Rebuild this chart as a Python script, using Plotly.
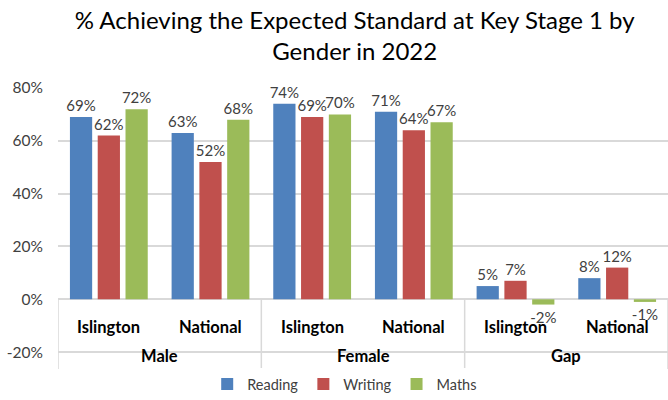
import plotly.graph_objects as go

groups = ["Male", "Male", "Female", "Female", "Gap", "Gap"]
areas = ["Islington", "National", "Islington", "National", "Islington", "National"]
reading = [69, 63, 74, 71, 5, 8]
writing = [62, 52, 69, 64, 7, 12]
maths = [72, 68, 70, 67, -2, -1]

series = [
    ("Reading", reading, "#4F81BD"),
    ("Writing", writing, "#C0504D"),
    ("Maths", maths, "#9BBB59"),
]

font = "Lato, 'Liberation Sans', sans-serif"
text_col = "#404040"

# unique category keys so each bar group sits in its own slot
cats = [g + "|" + a for g, a in zip(groups, areas)]

fig = go.Figure()
for name, vals, color in series:
    fig.add_trace(
        go.Bar(
            x=cats,
            y=vals,
            name=name,
            marker=dict(color=color, line=dict(width=0)),
            text=[f"{v}%" for v in vals],
            textposition="outside",
            constraintext="none",
            textfont=dict(size=15, color=text_col, family=font),
            cliponaxis=False,
        )
    )

# sub-category labels inside the band between 0% and -20%
for c, a in zip(cats, areas):
    fig.add_annotation(
        x=c, y=-10.6, xref="x", yref="y", text=f"<b>{a}</b>",
        showarrow=False, font=dict(size=16.5, color="#000000", family=font),
    )

# group labels under the -20% line
seen = []
for i, g in enumerate(groups):
    if g in seen:
        continue
    seen.append(g)
    idx = [j for j, gg in enumerate(groups) if gg == g]
    fig.add_annotation(
        x=(idx[0] + idx[-1]) / 2, y=-21.3, xref="x", yref="y",
        text=f"<b>{g}</b>", showarrow=False, yanchor="middle",
        font=dict(size=16.5, color="#000000", family=font),
    )

# vertical dividers of the category axis
for xb in [-0.5, 1.5, 3.5, 5.5]:
    fig.add_shape(
        type="line", x0=xb, x1=xb, y0=0, y1=-26.4, xref="x", yref="y",
        line=dict(color="#D9D9D9", width=1.5),
    )

fig.update_layout(
    width=668,
    height=400,
    margin=dict(l=58, r=0, t=88, b=30),
    paper_bgcolor="white",
    plot_bgcolor="white",
    font=dict(family=font, color=text_col),
    title=dict(
        text="% Achieving the Expected Standard at Key Stage 1 by<br>Gender in 2022",
        x=0.531, xanchor="center", y=0.927, yanchor="middle",
        font=dict(size=24, color="#000000", family=font),
    ),
    barmode="group",
    bargap=0.18,
    bargroupgap=0.2,
    showlegend=True,
    legend=dict(
        orientation="h", x=0.47, xanchor="center", y=-0.055, yanchor="middle",
        font=dict(size=14.5, color=text_col, family=font),
        itemwidth=30, traceorder="normal",
    ),
    xaxis=dict(
        showticklabels=False, showgrid=False, zeroline=False,
        range=[-0.5, 5.5], fixedrange=True,
    ),
    yaxis=dict(
        range=[-26.4, 80], tickvals=[-20, 0, 20, 40, 60, 80],
        ticktext=["-20%", "0%", "20%", "40%", "60%", "80%"],
        showgrid=True, gridcolor="#D9D9D9", gridwidth=1.5,
        zeroline=False, ticks="", ticklen=0, ticklabelstandoff=14,
        tickfont=dict(size=15.5, color=text_col, family=font),
    ),
)

fig.write_html(
    "out.html",
    config={"displayModeBar": False},
    post_script="document.body.style.margin='0';",
)
